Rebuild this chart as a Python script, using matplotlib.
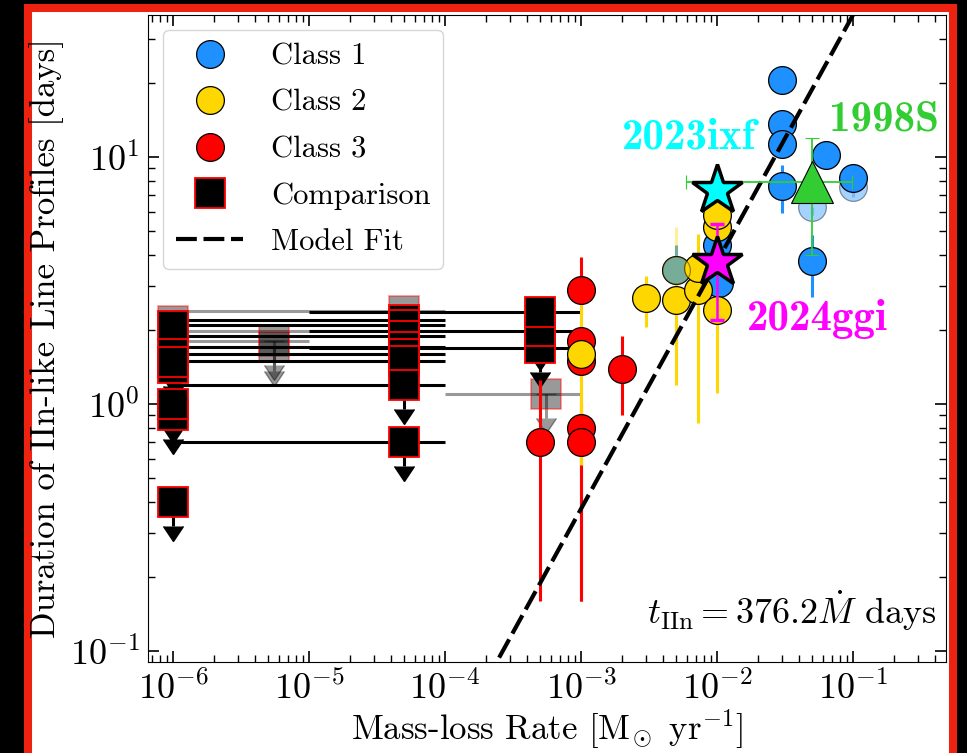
import numpy as np
import matplotlib
matplotlib.use("Agg")
import matplotlib.pyplot as plt
from matplotlib.patches import Rectangle
from matplotlib.lines import Line2D

plt.rcParams['font.family'] = 'serif'
plt.rcParams['font.serif'] = ['cmr10']
plt.rcParams['mathtext.fontset'] = 'cm'
plt.rcParams['axes.formatter.use_mathtext'] = True

# comparison sample (upper limits on duration)
comp_x = [1e-6, 1e-6, 1e-6, 1e-6, 1e-6, 1e-6, 1e-6,
          5e-5, 5e-5, 5e-5, 5e-5, 5e-5, 5e-5, 5e-5, 5e-5,
          5e-4, 5e-4, 5e-4]
comp_y = [1.40, 2.07, 1.59, 1.48, 0.90, 1.00, 0.40,
          2.19, 2.09, 1.89, 1.70, 1.59, 1.49, 1.19, 0.70,
          1.69, 1.98, 2.36]
comp_xlo = [1e-6] * 7 + [1e-6] * 8 + [1e-5] * 3
comp_xhi = [1e-6] * 7 + [1e-4] * 8 + [1e-3] * 3

# faded comparison points
fade_x = [1e-6, 5e-5, 5e-5, 5.5e-6, 5.5e-6, 5.5e-4]
fade_y = [2.17, 2.39, 1.98, 1.80, 1.70, 1.10]
fade_xlo = [1e-6, 1e-6, 1e-6, 1e-6, 1e-6, 1e-4]
fade_xhi = [1e-6, 1e-4, 1e-4, 1e-5, 1e-5, 1e-3]

# Class 1
c1_x = [0.03, 0.03, 0.03, 0.03, 0.063, 0.1, 0.05, 1e-2, 1.03e-2, 5e-3]
c1_y = [20.6, 13.6, 11.3, 7.63, 10.2, 8.25, 3.79, 4.4, 3.1, 3.49]
c1_lo = [20.6, 13.6, 11.3, 5.92, 10.2, 8.25, 2.72, 4.4, 3.1, 3.49]
c1_hi = [20.6, 13.6, 11.3, 9.28, 10.2, 8.25, 4.83, 4.4, 3.1, 4.4]
c1f_x = [0.1, 0.05]
c1f_y = [7.58, 6.29]
c1f_lo = [6.9, 5.82]
c1f_hi = [7.58, 6.29]

# Class 3
c3_x = [1e-3, 1e-3, 1e-3, 1e-3, 1e-3, 5e-4, 2e-3]
c3_y = [2.89, 1.80, 1.50, 0.80, 0.70, 0.70, 1.39]
c3_lo = [2.3, 1.5, 1.2, 0.16, 0.16, 0.16, 0.90]
c3_hi = [3.94, 2.2, 1.8, 1.2, 1.0, 1.25, 1.88]

# Class 2
c2_x = [1e-3, 3e-3, 5e-3, 7.3e-3, 7.3e-3, 1e-2, 1e-2, 1e-2]
c2_y = [1.59, 2.68, 2.63, 2.89, 3.55, 2.40, 5.22, 5.80]
c2_lo = [0.567, 2.05, 1.20, 0.84, 3.55, 1.11, 5.22, 5.80]
c2_hi = [2.60, 3.31, 3.30, 4.90, 3.55, 2.40, 5.22, 5.80]
c2f_x = [5e-3]
c2f_y = [3.49]
c2f_lo = [3.49]
c2f_hi = [5.2]

# individual objects
sn98_x, sn98_y = 0.05, 7.9
sn98_xlo, sn98_xhi = 0.0059, 0.098
sn98_ylo, sn98_yhi = 4.0, 11.9
ixf_x, ixf_y = 1e-2, 7.35
ggi_x, ggi_y = 1e-2, 3.77
ggi_ylo, ggi_yhi = 2.19, 5.35

fit_coef = 376.2

fig = plt.figure(figsize=(9.67, 7.53), dpi=100, facecolor='black')
fig.patches.append(Rectangle((28 / 967, -0.01), (952.5 - 28) / 967, 1 - 8 / 753 + 0.01,
                             transform=fig.transFigure, facecolor='white',
                             edgecolor='#ee2211', linewidth=5.8, zorder=-1))
ax = fig.add_axes([148 / 967, 1 - 662 / 753, 798 / 967, 647 / 753])


def asym(v, lo, hi):
    v = np.array(v)
    return [v - np.array(lo), np.array(hi) - v]


# faded comparison
fx, fy = np.array(fade_x), np.array(fade_y)
ax.errorbar(fx, fy, xerr=asym(fx, fade_xlo, fade_xhi), fmt='none', color='k', ecolor='k',
            elinewidth=2.2, capsize=0, alpha=0.4, zorder=1)
ax.errorbar(fx, fy, yerr=0.2 * fy, uplims=True, fmt='none', color='k', ecolor='k',
            elinewidth=2.2, capsize=7, alpha=0.4, zorder=1)
ax.plot(fx, fy, 's', mfc='k', mec='red', ms=21.5, mew=1.3, alpha=0.4, zorder=1)

# comparison
cx, cy = np.array(comp_x), np.array(comp_y)
ax.errorbar(cx, cy, xerr=asym(cx, comp_xlo, comp_xhi), fmt='none', color='k', ecolor='k',
            elinewidth=2.2, capsize=0, zorder=2)
ax.errorbar(cx, cy, yerr=0.2 * cy, uplims=True, fmt='none', color='k', ecolor='k',
            elinewidth=2.2, capsize=7, zorder=2)
ax.plot(cx, cy, 's', mfc='k', mec='red', ms=21.5, mew=1.3, zorder=2)

circ = dict(fmt='o', ms=20, mec='k', mew=0.9, elinewidth=2.2, capsize=0)
ax.errorbar(c1f_x, c1f_y, yerr=asym(c1f_y, c1f_lo, c1f_hi), color='dodgerblue',
            alpha=0.4, zorder=3, **circ)
ax.errorbar(c1_x, c1_y, yerr=asym(c1_y, c1_lo, c1_hi), color='dodgerblue', zorder=3, **circ)
ax.errorbar(c3_x, c3_y, yerr=asym(c3_y, c3_lo, c3_hi), color='red', zorder=3, **circ)
ax.errorbar(c2_x, c2_y, yerr=asym(c2_y, c2_lo, c2_hi), color='gold', zorder=3, **circ)
ax.errorbar(c2f_x, c2f_y, yerr=asym(c2f_y, c2f_lo, c2f_hi), color='gold',
            alpha=0.4, zorder=3, **circ)

# model fit
xx = np.logspace(-7, 0, 100)
ax.plot(xx, fit_coef * xx, color='k', lw=3, ls=(0, (5, 1.6)), zorder=5)

# SN 1998S
ax.errorbar(sn98_x, sn98_y, xerr=[[sn98_x - sn98_xlo], [sn98_xhi - sn98_x]],
            yerr=[[sn98_y - sn98_ylo], [sn98_yhi - sn98_y]], fmt='^', color='limegreen',
            mec='k', mew=0.8, ms=30, elinewidth=1.3, capsize=5, capthick=1.3, zorder=6)
# 2024ggi
ax.errorbar(ggi_x, ggi_y, yerr=[[ggi_y - ggi_ylo], [ggi_yhi - ggi_y]], fmt='*',
            color='magenta', mec='k', mew=2.5, ms=38, elinewidth=1.8, capsize=5,
            capthick=1.8, zorder=7)
# 2023ixf
ax.plot(ixf_x, ixf_y, '*', color='cyan', mec='k', mew=2.5, ms=38, zorder=7)

bold = dict(family='cmb10', fontsize=31, ha='center', va='baseline')
ax.text(6.2e-3, 10.87, '2023ixf', color='cyan', **bold)
ax.text(0.169, 12.86, '1998S', color='limegreen', **bold)
ax.text(0.0543, 1.99, '2024ggi', color='magenta', **bold)
ax.text(0.988, 0.045, r'$t_{\rm IIn}=376.2\dot{M}$ days', transform=ax.transAxes,
        fontsize=26, ha='right', va='bottom')

ax.set_xscale('log')
ax.set_yscale('log')
ax.set_xlim(6.55e-7, 0.483)
ax.set_ylim(0.0903, 37.6)
ax.tick_params(which='both', direction='in', top=True, right=True, labelsize=26, pad=6)
ax.tick_params(which='major', length=8, width=1.2)
ax.tick_params(which='minor', length=5, width=1.0)
ax.set_xlabel(r'Mass-loss Rate [$\mathrm{M}_{\!\odot}$ yr$^{-1}$]', fontsize=25, labelpad=1)
ax.set_ylabel('Duration of IIn-like Line Profiles [days]', fontsize=25)

handles = [
    Line2D([], [], ls='none', marker='o', ms=20, mfc='dodgerblue', mec='k', mew=0.9),
    Line2D([], [], ls='none', marker='o', ms=20, mfc='gold', mec='k', mew=0.9),
    Line2D([], [], ls='none', marker='o', ms=20, mfc='red', mec='k', mew=0.9),
    Line2D([], [], ls='none', marker='s', ms=21.5, mfc='k', mec='red', mew=1.3),
    Line2D([], [], color='k', lw=3, ls=(0, (5, 1.6))),
]
ax.legend(handles, ['Class 1', 'Class 2', 'Class 3', 'Comparison', 'Model Fit'],
          loc='upper left', fontsize=22, labelspacing=0.62, handlelength=2.2,
          handletextpad=0.9, borderpad=0.42)

fig.savefig('out.png', dpi=100, facecolor=fig.get_facecolor())
